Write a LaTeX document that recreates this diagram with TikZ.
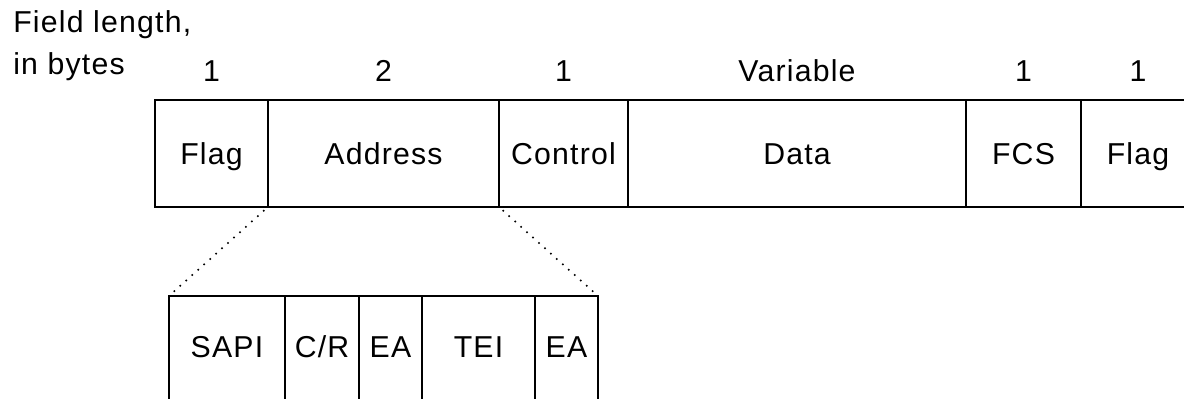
\documentclass[tikz,border=0pt]{standalone}
\usepackage{fontspec}
\setmainfont{Liberation Sans}[LetterSpace=4]
\usetikzlibrary{arrows.meta}

\tikzset{
  field/.style={draw, line width=1.4pt, inner sep=0pt, outer sep=0pt,
    minimum height=2.675cm, text height=0.56cm, text depth=0pt,
    font=\fontsize{21.5}{26}\selectfont},
  subfield/.style={field, minimum height=2.75cm, text height=0.3cm},
  lenlabel/.style={anchor=base, inner sep=0pt, font=\fontsize{21.5}{26}\selectfont},
  zoomline/.style={line width=1.6pt, line cap=round, dash pattern=on 0pt off 5.7pt,
    shorten <=4pt, shorten >=4pt}
}

\begin{document}
\begin{tikzpicture}[x=0.025cm, y=-0.025cm]
    \useasboundingbox (0,0) rectangle (1184,399);
    \clip (0,0) rectangle (1184,399);
    % frame fields
    \node[field, minimum width=2.825cm] (flagA) at (211.5,153.5) {Flag};
    \node[field, minimum width=5.775cm] (addr) at (383.5,153.5) {Address};
    \node[field, minimum width=3.225cm] (ctrl) at (563.5,153.5) {Control};
    \node[field, minimum width=8.45cm] (data) at (797,153.5) {Data};
    \node[field, minimum width=2.875cm] (fcs) at (1023.5,153.5) {FCS};
    \node[field, minimum width=2.85cm] (flagB) at (1138,153.5) {Flag};
    % address subfields
    \node[subfield, minimum width=2.9cm] (sapi) at (227,351) {SAPI};
    \node[subfield, minimum width=1.85cm] (cr) at (322,351) {C/R};
    \node[subfield, minimum width=1.575cm] (eaA) at (390.5,351) {EA};
    \node[subfield, minimum width=2.825cm] (tei) at (478.5,351) {TEI};
    \node[subfield, minimum width=1.575cm] (eaB) at (566.5,351) {EA};
    \draw[zoomline] (addr.south west) -- (sapi.north west);
    \draw[zoomline] (addr.south east) -- (eaB.north east);
    % lengths
    \node[lenlabel, anchor=base west] (lenhead) at (13,33) {Field length,};
    \node[lenlabel, anchor=base west] (lenunit) at (13,75) {in bytes};
    \foreach \x/\t [count=\i] in {211.5/1, 383.5/2, 563.5/1, 797/Variable, 1023.5/1, 1138/1}
        \node[lenlabel] (len\i) at (\x,82) {\t};
\end{tikzpicture}
\end{document}
